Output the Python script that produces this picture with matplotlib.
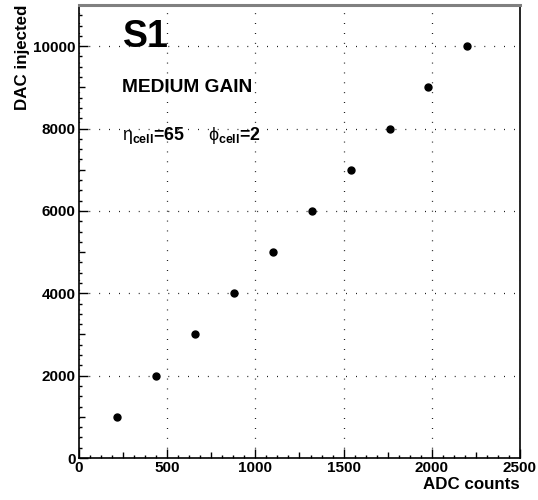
import numpy as np
import matplotlib.pyplot as plt
from matplotlib.ticker import MultipleLocator

plt.rcParams['font.family'] = ['Liberation Sans', 'DejaVu Sans']
plt.rcParams['mathtext.fontset'] = 'custom'
plt.rcParams['mathtext.rm'] = 'Liberation Sans'
plt.rcParams['mathtext.bf'] = 'Liberation Sans:bold'
plt.rcParams['mathtext.it'] = 'Liberation Sans:italic'

# ADC counts vs injected DAC
adc_counts = [218, 437, 657, 878, 1100, 1320, 1540, 1761, 1981, 2199]
dac_injected = [1000, 2000, 3000, 4000, 5000, 6000, 7000, 8000, 9000, 10000]

x_ticks = [0, 500, 1000, 1500, 2000, 2500]
y_ticks = [0, 2000, 4000, 6000, 8000, 10000]

fig = plt.figure(figsize=(5.38, 5.0), dpi=100)
ax = fig.add_axes([0.1468, 0.084, 0.8197, 0.906])

ax.plot(adc_counts, dac_injected, 'ko', ms=5.0, zorder=5)

ax.set_xlim(0, 2500)
ax.set_ylim(0, 11000)
ax.set_xticks(x_ticks)
ax.set_yticks(y_ticks)
ax.xaxis.set_minor_locator(MultipleLocator(62.5))
ax.yaxis.set_minor_locator(MultipleLocator(250))

ax.tick_params(which='both', direction='in', top=False, right=False,
               width=1.0, labelsize=11)
ax.tick_params(which='major', length=6.5, pad=2.5)
ax.tick_params(which='minor', length=2)
for lab in ax.get_xticklabels() + ax.get_yticklabels():
    lab.set_fontweight('bold')

# medium ticks
fig.canvas.draw()
for tick, loc in zip(ax.xaxis.get_minor_ticks(), ax.xaxis.get_minorticklocs()):
    if abs(loc % 250) < 1e-6:
        tick.tick1line.set_markersize(4)
for tick, loc in zip(ax.yaxis.get_minor_ticks(), ax.yaxis.get_minorticklocs()):
    if abs(loc % 1000) < 1e-6:
        tick.tick1line.set_markersize(4)

ax.grid(True, which='major', color='black', lw=0.9,
        linestyle=(0, (0.7, 7.2)))

for side in ['left', 'bottom', 'right']:
    ax.spines[side].set_linewidth(1.2)
ax.spines['top'].set_color('#808080')
ax.spines['top'].set_linewidth(2.2)

ax.set_xlabel('ADC counts', fontsize=12.2, fontweight='bold', loc='right',
              labelpad=1)
ax.set_ylabel('DAC injected', fontsize=12.2, fontweight='bold', loc='top',
              labelpad=2)

ax.text(0.1, 0.93, 'S1', transform=ax.transAxes, fontsize=27,
        fontweight='bold', va='center', ha='left')
ax.text(0.097, 0.817, 'MEDIUM GAIN', transform=ax.transAxes, fontsize=13.8,
        fontweight='bold', va='center', ha='left')
ax.text(0.097, 0.711,
        r'$\mathrm{\eta}_{\mathbf{cell}}$=65     $\mathrm{\phi}_{\mathbf{cell}}$=2',
        transform=ax.transAxes, fontsize=12.8, fontweight='bold',
        va='center', ha='left')

fig.savefig('out.png', dpi=100)
